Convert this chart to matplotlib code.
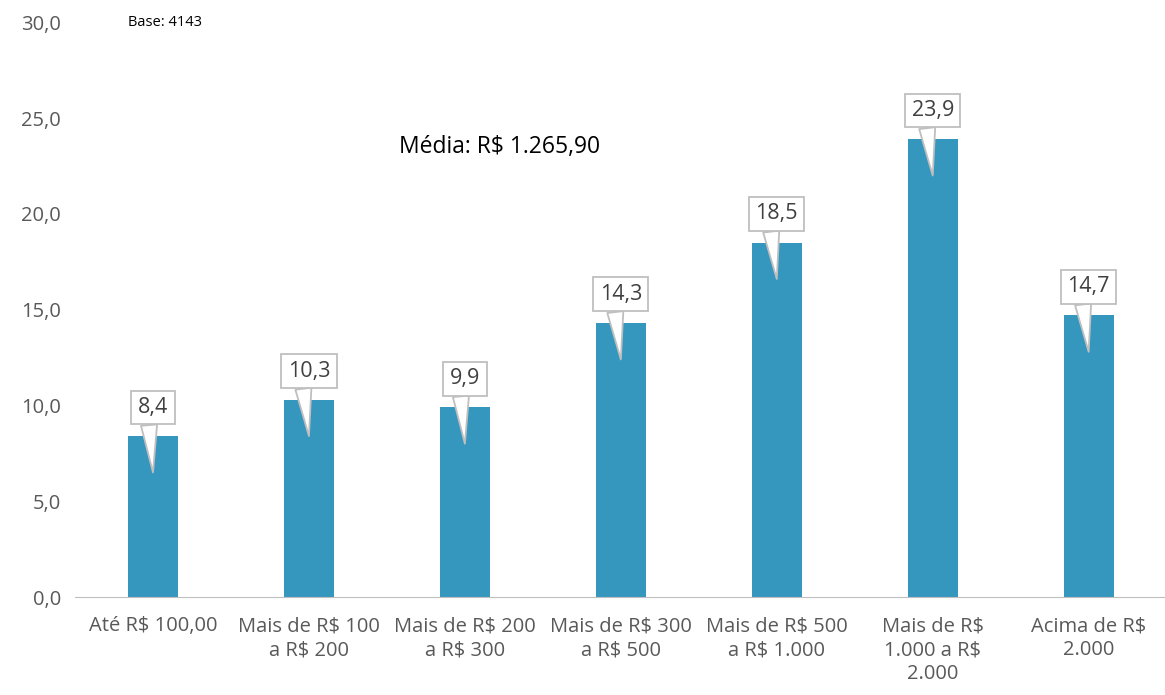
import numpy as np
import matplotlib.pyplot as plt

plt.rcParams['font.family'] = ['Open Sans', 'DejaVu Sans']

categories = ["Até R$ 100,00", "Mais de R$ 100\na R$ 200", "Mais de R$ 200\na R$ 300",
              "Mais de R$ 300\na R$ 500", "Mais de R$ 500\na R$ 1.000",
              "Mais de R$\n1.000 a R$\n2.000", "Acima de R$\n2.000"]
values = [8.4, 10.3, 9.9, 14.3, 18.5, 23.9, 14.7]
labels = ["8,4", "10,3", "9,9", "14,3", "18,5", "23,9", "14,7"]
yticks = [0, 5, 10, 15, 20, 25, 30]

fig = plt.figure(figsize=(11.65, 6.95), dpi=100)
ax = fig.add_axes([0.0644, 0.141, 0.937, 0.827])

x = np.arange(len(values))
ax.bar(x, values, width=0.32, color='#3596BE', zorder=2)

# callout boxes with a pointer into the bar
for xi, v, lab in zip(x, values, labels):
    ax.annotate(lab, xy=(xi, v - 1.9), xytext=(0, 65), textcoords='offset pixels',
                ha='center', va='center', fontsize=15.5, color='#404040', zorder=4,
                bbox=dict(boxstyle='square,pad=0.3', fc='white', ec='#BFBFBF', lw=1.3),
                arrowprops=dict(arrowstyle='wedge,tail_width=0.75,shrink_factor=0.5',
                                fc='white', ec='#BFBFBF', lw=1.3, relpos=(0.35, 0),
                                shrinkA=0, shrinkB=0))

ax.text(2.22, 23.5, "Média: R$ 1.265,90", fontsize=16.5, color='black', ha='center', va='center')
ax.text(-0.16, 30, "Base: 4143", fontsize=10.5, color='black', ha='left', va='center')

ax.set_xlim(-0.5, 6.5)
ax.set_ylim(0, 30)
ax.set_yticks(yticks)
ax.set_yticklabels([f"{t:.1f}".replace('.', ',') for t in yticks])
ax.set_xticks(x)
ax.set_xticklabels(categories, linespacing=1.25)
ax.tick_params(axis='both', length=0, labelsize=14.5, colors='#595959')
ax.tick_params(axis='x', pad=14)
ax.tick_params(axis='y', pad=10)
for s in ['top', 'right', 'left']:
    ax.spines[s].set_visible(False)
ax.spines['bottom'].set_color('#BFBFBF')

fig.savefig('out.png', dpi=100)
